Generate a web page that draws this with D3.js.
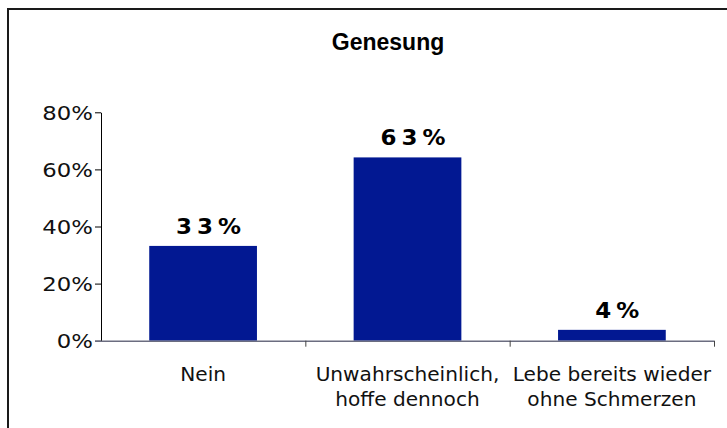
<!DOCTYPE html>
<html><head><meta charset="utf-8">
<script src="https://cdn.jsdelivr.net/npm/d3@7"></script>
<style>html,body{margin:0;padding:0;background:#fff;}svg{display:block;}</style>
</head><body>
<svg id="c" width="727" height="428"></svg>
<script>
const title = "Genesung";
const categories = [["Nein"], ["Unwahrscheinlich,", "hoffe dennoch"], ["Lebe bereits wieder", "ohne Schmerzen"]];
const values = [33.2, 64.2, 3.8];
const valueLabels = ["33%", "63%", "4%"];
const yTicks = [0, 20, 40, 60, 80];

const svg = d3.select("#c");
const W = 727, H = 428;
const m = {left: 101, right: 13, top: 112.3, bottom: 87.3};
const x = d3.scaleBand().domain(d3.range(categories.length)).range([m.left, W - m.right]).paddingInner(0.473).paddingOuter(0.236);
const y = d3.scaleLinear().domain([0, 80]).range([H - m.bottom, m.top]);

function stretch(sel, s) {
  sel.each(function() {
    const ax = +this.getAttribute("x") || 0;
    d3.select(this).attr("transform", `translate(${ax},0) scale(${s},1) translate(${-ax},0)`);
  });
}

// frame
svg.append("path").attr("d", `M8,${H+5} V9 H${W+5}`).attr("fill", "none").attr("stroke", "#1a1a1a").attr("stroke-width", 2);

svg.append("text").attr("x", 388).attr("y", 50).attr("text-anchor", "middle")
  .attr("font-family", "Liberation Sans, Arial, sans-serif").attr("font-weight", "bold").attr("font-size", 23)
  .attr("fill", "#000").text(title);

// bars
svg.selectAll("rect.bar").data(values).join("rect").attr("class", "bar")
  .attr("x", (d, i) => x(i)).attr("width", x.bandwidth())
  .attr("y", d => y(d)).attr("height", d => y(0) - y(d)).attr("fill", "#021892");

// y axis
const ya = svg.append("g").attr("transform", `translate(${m.left},0)`)
  .call(d3.axisLeft(y).tickValues(yTicks).tickSize(6).tickSizeOuter(0).tickFormat(d => d + "%"));
ya.select(".domain").attr("stroke", "#000");
ya.selectAll(".tick line").attr("stroke", "#000");
ya.selectAll(".tick text").attr("font-family", "DejaVu Sans, Verdana, sans-serif").attr("font-size", 19)
  .attr("fill", "#111").attr("x", -8).attr("dy", "0.36em");
stretch(ya.selectAll(".tick text"), 1.2);

// x axis
const xr = d3.scaleLinear().domain([0, categories.length]).range([m.left, W - m.right]);
const xa = svg.append("g").attr("transform", `translate(0,${y(0)})`)
  .call(d3.axisBottom(xr).tickValues(d3.range(1, categories.length + 1)).tickSize(6).tickSizeOuter(0).tickFormat(""));
xa.select(".domain").attr("stroke", "#6b6d80").attr("stroke-width", 1.5).attr("d", `M${m.left - 6},0.5H${W - m.right}`);
xa.selectAll(".tick line").attr("stroke", "#444");

// category labels
const cl = svg.append("g");
categories.forEach((lines, i) => {
  const cx = x(i) + x.bandwidth() / 2;
  const t = cl.append("text").attr("text-anchor", "middle").attr("x", cx)
    .attr("font-family", "DejaVu Sans, Verdana, sans-serif").attr("font-size", 19).attr("fill", "#111");
  lines.forEach((s, j) => t.append("tspan").attr("x", cx).attr("y", 381 + j * 25.5).text(s));
  stretch(t, 1.06);
});

// value labels
const vl = svg.selectAll("text.vl").data(values).join("text").attr("class", "vl")
  .attr("x", (d, i) => x(i) + x.bandwidth() / 2 + 8).attr("y", d => y(d) - 12)
  .attr("text-anchor", "middle").attr("font-family", "DejaVu Sans, Verdana, sans-serif")
  .attr("font-weight", "bold").attr("font-size", 20.5).attr("letter-spacing", 4.5).attr("fill", "#000")
  .text((d, i) => valueLabels[i]);
stretch(vl, 1.12);
</script>
</body></html>
